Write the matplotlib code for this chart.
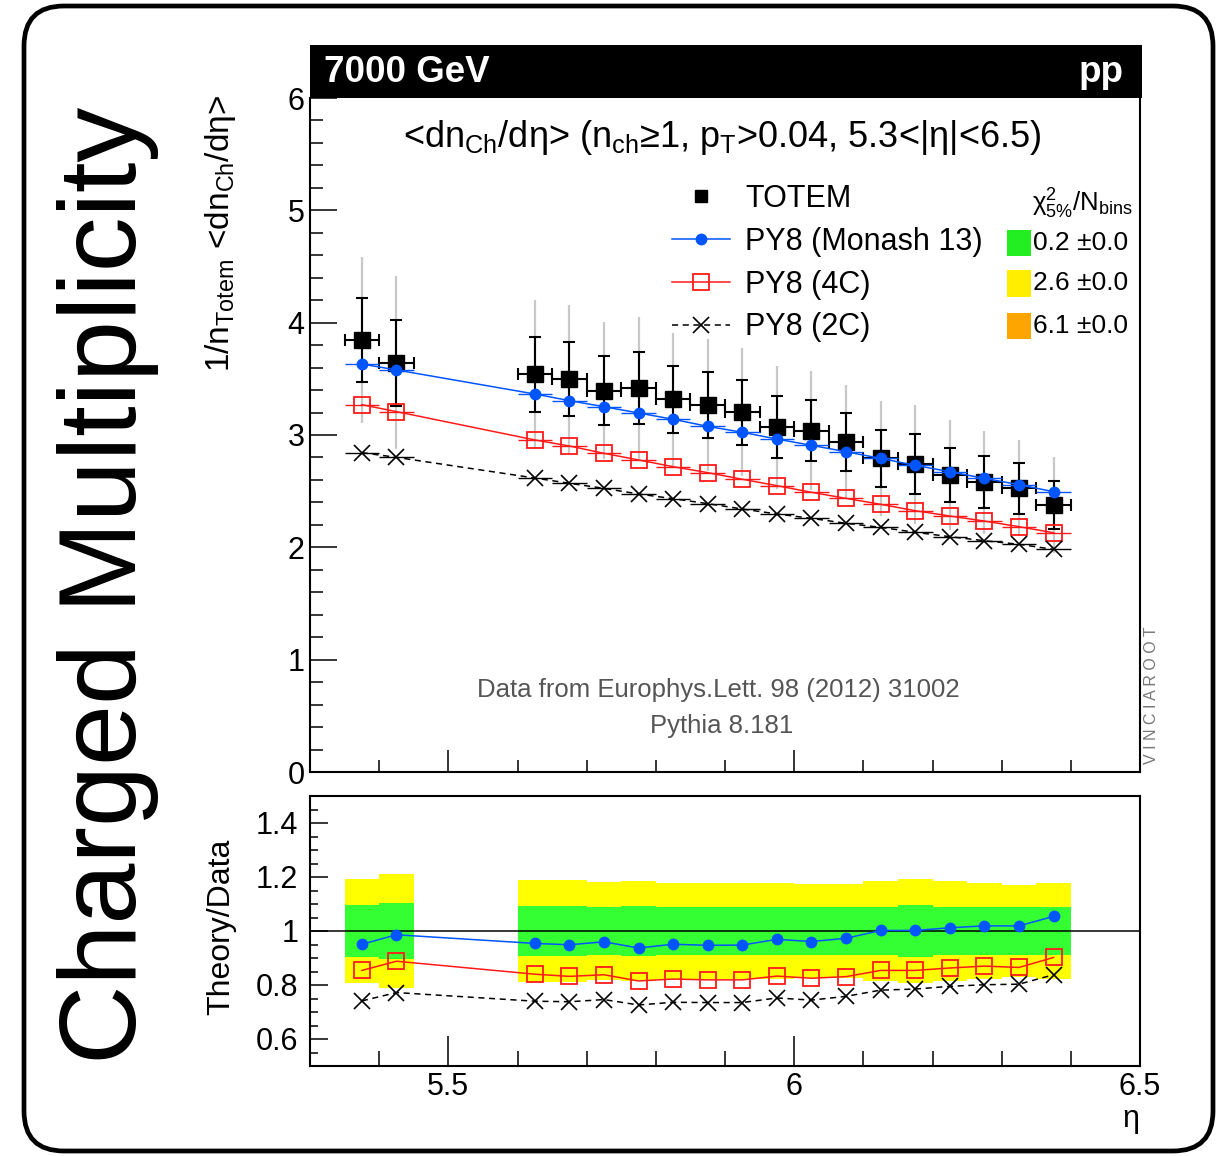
import matplotlib
matplotlib.use('Agg')
import matplotlib.pyplot as plt
import numpy as np
from matplotlib.patches import FancyBboxPatch, Rectangle
from matplotlib.lines import Line2D
from matplotlib.transforms import IdentityTransform
from matplotlib.ticker import MultipleLocator, FixedLocator, FixedFormatter

plt.rcParams['font.family'] = ['Liberation Sans', 'DejaVu Sans']
plt.rcParams['mathtext.fontset'] = 'custom'
plt.rcParams['mathtext.rm'] = 'Liberation Sans'
plt.rcParams['mathtext.it'] = 'Liberation Sans:italic'
plt.rcParams['mathtext.bf'] = 'Liberation Sans:bold'
plt.rcParams['mathtext.default'] = 'regular'

# ---------------- data ----------------
eta = [5.375, 5.425, 5.625, 5.675, 5.725, 5.775, 5.825, 5.875, 5.925,
       5.975, 6.025, 6.075, 6.125, 6.175, 6.225, 6.275, 6.325, 6.375]
bin_half_width = 0.025

totem = [3.846, 3.644, 3.540, 3.498, 3.394, 3.418, 3.318, 3.267, 3.202,
         3.068, 3.039, 2.938, 2.792, 2.739, 2.644, 2.579, 2.525, 2.377]
stat_rel = [0.0975, 0.105, 0.094, 0.094, 0.090, 0.094, 0.090, 0.090, 0.090,
            0.090, 0.089, 0.089, 0.090, 0.0975, 0.090, 0.090, 0.090, 0.090]
tot_rel = [0.193, 0.211, 0.188, 0.188, 0.180, 0.184, 0.179, 0.179, 0.178,
           0.178, 0.174, 0.174, 0.184, 0.193, 0.184, 0.178, 0.169, 0.178]

monash = [3.632, 3.579, 3.365, 3.306, 3.252, 3.196, 3.140, 3.077, 3.024,
          2.964, 2.908, 2.851, 2.792, 2.730, 2.673, 2.614, 2.558, 2.495]
py4c = [3.270, 3.208, 2.956, 2.902, 2.837, 2.778, 2.718, 2.665, 2.606,
        2.549, 2.490, 2.436, 2.383, 2.326, 2.279, 2.234, 2.184, 2.130]
py2c = [2.843, 2.801, 2.617, 2.570, 2.525, 2.475, 2.433, 2.389, 2.341,
        2.297, 2.258, 2.214, 2.178, 2.134, 2.095, 2.059, 2.027, 1.982]

ratio_monash = [0.951, 0.986, 0.954, 0.949, 0.960, 0.937, 0.951, 0.947, 0.948,
                0.969, 0.961, 0.973, 1.002, 1.002, 1.012, 1.019, 1.019, 1.054]
ratio_4c = [0.854, 0.888, 0.840, 0.832, 0.838, 0.815, 0.822, 0.819, 0.819,
            0.833, 0.825, 0.831, 0.854, 0.854, 0.863, 0.870, 0.865, 0.902]
ratio_2c = [0.741, 0.772, 0.740, 0.738, 0.746, 0.726, 0.736, 0.735, 0.735,
            0.752, 0.744, 0.758, 0.781, 0.785, 0.795, 0.801, 0.803, 0.838]

labels = ['TOTEM', 'PY8 (Monash 13)', 'PY8 (4C)', 'PY8 (2C)']
chi2_text = ['0.2 \u00b10.0', '2.6 \u00b10.0', '6.1 \u00b10.0']
y_ticks_main = [0, 1, 2, 3, 4, 5, 6]
y_ticks_ratio = [0.6, 0.8, 1.0, 1.2, 1.4]
y_ticklabels_ratio = ['0.6', '0.8', '1', '1.2', '1.4']
x_ticks = [5.5, 6.0, 6.5]
x_ticklabels = ['5.5', '6', '6.5']

# ---------------- styles ----------------
BLUE = '#0055ff'
RED = '#ff1a1a'
GREEN_BAND = '#33ff33'
YELLOW_BAND = '#ffff00'

W, H = 1228, 1156
fig = plt.figure(figsize=(W / 100, H / 100), dpi=100)


def fx(px):
    return px / W


def fy(py):
    return 1 - py / H


ax = fig.add_axes([fx(310), fy(772), fx(1140) - fx(310), fy(98) - fy(772)])
axr = fig.add_axes([fx(310), fy(1066), fx(1140) - fx(310), fy(796) - fy(1066)])

eta_a = np.array(eta)
tot_a = np.array(totem)
stat_err = np.array(stat_rel) * tot_a
tot_err = np.array(tot_rel) * tot_a

# ---------------- main panel ----------------
ax.errorbar(eta_a, tot_a, yerr=tot_err, fmt='none', ecolor='#c8c8c8',
            elinewidth=1.6, zorder=1)
ax.errorbar(eta_a, tot_a, xerr=bin_half_width, yerr=stat_err, fmt='s',
            color='black', ms=11, elinewidth=1.5, capsize=4.5, capthick=1.5,
            zorder=2)

models = [
    (monash, BLUE, 'o', BLUE, '-', 7.5, 1.0),
    (py4c, RED, 's', 'none', '-', 11, 1.3),
    (py2c, 'black', 'x', 'black', '--', 11, 1.2),
]
for vals, col, mk, mfc, ls, ms, mew in models:
    ax.errorbar(eta_a, vals, xerr=bin_half_width, fmt='none', ecolor=col,
                elinewidth=1.0, zorder=3)
    ln, = ax.plot(eta_a, vals, color=col, ls=ls, lw=1.1, marker=mk, mfc=mfc,
                  mec=col, ms=ms, mew=mew, zorder=4)
    if ls == '--':
        ln.set_dashes((4, 3))

ax.set_xlim(5.3, 6.5)
ax.set_ylim(0, 6)
ax.yaxis.set_major_locator(FixedLocator(y_ticks_main))
ax.yaxis.set_minor_locator(MultipleLocator(0.2))
ax.xaxis.set_major_locator(FixedLocator(x_ticks))
ax.xaxis.set_minor_locator(MultipleLocator(0.1))
ax.set_xticklabels([])
ax.tick_params(axis='both', which='both', direction='in', top=False,
               right=False, width=1.1, labelsize=22)
ax.tick_params(axis='y', which='major', length=19.5, pad=4)
ax.tick_params(axis='y', which='minor', length=9.5)
ax.tick_params(axis='x', which='major', length=16)
ax.tick_params(axis='x', which='minor', length=8.5)
for s in ax.spines.values():
    s.set_linewidth(1.5)
ax.spines['top'].set_visible(False)

# legend
handles = [
    Line2D([], [], ls='none', marker='s', color='black', ms=9),
    Line2D([], [], ls='-', lw=1.1, color=BLUE, marker='o', ms=7.5),
    Line2D([], [], ls='-', lw=1.1, color=RED, marker='s', mfc='none', ms=11, mew=1.3),
    Line2D([], [], ls=(0, (4, 3)), lw=1.1, color='black', marker='x', ms=11, mew=1.2),
]
ax.legend(handles, labels, loc='upper left', bbox_to_anchor=(fx(672), fy(184)),
          bbox_transform=fig.transFigure, frameon=False, fontsize=22,
          handlelength=1.9, handletextpad=0.5, labelspacing=0.42,
          borderpad=0, borderaxespad=0)

# chi2 column
chi_cols = ['#22ee22', '#ffee00', '#ffa500']
chi_rows = [(230, 256), (270, 297), (313, 339)]
for col, (t, b), txt in zip(chi_cols, chi_rows, chi2_text):
    fig.add_artist(Rectangle((fx(1007), fy(b)), fx(1031) - fx(1007), fy(t) - fy(b),
                             transform=fig.transFigure, color=col, lw=0))
    fig.text(fx(1033), fy((t + b) / 2), txt, fontsize=19, ha='left', va='center')
fig.text(fx(1032), fy(212), r'$\chi^{2}_{5\%}$/N$_{bins}$', fontsize=18.5,
         ha='left', va='baseline')

# title bar
fig.add_artist(Rectangle((fx(310), fy(98)), fx(1142) - fx(310), fy(45) - fy(98),
                         transform=fig.transFigure, color='black', lw=0))
fig.text(fx(324), fy(72), '7000 GeV', color='white', fontsize=26.5,
         fontweight='bold', ha='left', va='center')
fig.text(fx(1124), fy(72), 'pp', color='white', fontsize=26.5,
         fontweight='bold', ha='right', va='center')

fig.text(fx(722), fy(147),
         '<dn$_{Ch}$/d\u03b7> (n$_{ch}$\u22651, p$_{T}$>0.04, 5.3<|\u03b7|<6.5)',
         fontsize=26, ha='center', va='baseline')

fig.text(fx(718), fy(697), 'Data from Europhys.Lett. 98 (2012) 31002',
         fontsize=18.5, color='#555555', ha='center', va='baseline')
fig.text(fx(722), fy(733), 'Pythia 8.181', fontsize=18.5, color='#555555',
         ha='center', va='baseline')
fig.text(fx(1152), fy(695), 'V I N C I A R O O T', fontsize=11.5, color='#777777',
         rotation=90, ha='center', va='center')

# ---------------- ratio panel ----------------
axr.bar(eta_a, 2 * np.array(tot_rel), bottom=1 - np.array(tot_rel),
        width=2 * bin_half_width, color=YELLOW_BAND, lw=0, zorder=1)
axr.bar(eta_a, 2 * np.array(stat_rel), bottom=1 - np.array(stat_rel),
        width=2 * bin_half_width, color=GREEN_BAND, lw=0, zorder=2)
axr.axhline(1.0, color='black', lw=1.1, zorder=3)

rmodels = [
    (ratio_monash, BLUE, 'o', BLUE, '-', 7.5, 1.0),
    (ratio_4c, RED, 's', 'none', '-', 11, 1.3),
    (ratio_2c, 'black', 'x', 'black', '--', 11, 1.2),
]
for vals, col, mk, mfc, ls, ms, mew in rmodels:
    ln, = axr.plot(eta_a, vals, color=col, ls=ls, lw=1.1, marker=mk, mfc=mfc,
                   mec=col, ms=ms, mew=mew, zorder=4)
    if ls == '--':
        ln.set_dashes((4, 3))

axr.set_xlim(5.3, 6.5)
axr.set_ylim(0.5, 1.5)
axr.yaxis.set_major_locator(FixedLocator(y_ticks_ratio))
axr.yaxis.set_major_formatter(FixedFormatter(y_ticklabels_ratio))
axr.yaxis.set_minor_locator(MultipleLocator(0.05))
axr.xaxis.set_major_locator(FixedLocator(x_ticks))
axr.xaxis.set_major_formatter(FixedFormatter(x_ticklabels))
axr.xaxis.set_minor_locator(MultipleLocator(0.1))
axr.tick_params(axis='both', which='both', direction='in', top=False,
                right=False, width=1.1, labelsize=22)
axr.tick_params(axis='y', which='major', length=13, pad=8.5)
axr.tick_params(axis='y', which='minor', length=6)
axr.tick_params(axis='x', which='major', length=21.5, pad=4)
axr.tick_params(axis='x', which='minor', length=10.8)
for s in axr.spines.values():
    s.set_linewidth(1.5)

fig.text(fx(1131), fy(1127), '\u03b7', fontsize=22, ha='center', va='baseline')

# axis titles
fig.text(fx(220), fy(95), '1/n$_{Totem}$ <dn$_{Ch}$/d\u03b7>', rotation=90,
         fontsize=24, ha='center', va='top')
fig.text(fx(221), fy(927), 'Theory/Data', rotation=90, fontsize=23,
         ha='center', va='center')

# big side title
fig.text(fx(108), fy(585), 'Charged Multiplicity', rotation=90, fontsize=79,
         ha='center', va='center')

# rounded frame
frame = FancyBboxPatch((24, 5), 1189, 1145, boxstyle='round,pad=0,rounding_size=40',
                       transform=IdentityTransform(), fill=False, lw=3.4,
                       ec='black')
fig.add_artist(frame)

fig.savefig('out.png', dpi=100)
